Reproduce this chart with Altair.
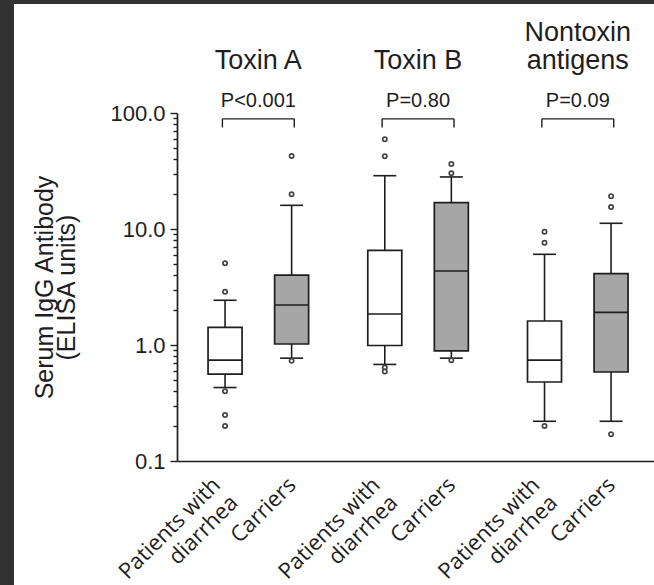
import json

import altair as alt
import pandas as pd

# ---- data -------------------------------------------------------------
antigens = ["Toxin A", "Toxin B", "Nontoxin\nantigens"]
p_labels = ["P<0.001", "P=0.80", "P=0.09"]
group_names = ["Patients with diarrhea", "Carriers"]
group_ticks = [["Patients with", "diarrhea"], ["Carriers"]]

# Box-plot statistics in ELISA units, per antigen: [patients, carriers]
lower_whisker = [[0.43, 0.77], [0.68, 0.77], [0.22, 0.22]]
lower_quartile = [[0.56, 1.02], [0.99, 0.89], [0.48, 0.585]]
medians = [[0.74, 2.21], [1.85, 4.34], [0.74, 1.91]]
upper_quartile = [[1.42, 4.01], [6.55, 16.9], [1.61, 4.12]]
upper_whisker = [[2.43, 16.0], [28.8, 28.1], [6.05, 11.2]]
outliers = [
    [[5.06, 2.88, 0.40, 0.249, 0.20], [42.6, 19.9, 0.73]],
    [[59.3, 42.3, 0.64, 0.59], [36.3, 30.2, 0.74]],
    [[9.48, 7.62, 0.20], [19.2, 15.5, 0.17]],
]

# ---- layout / style constants -----------------------------------------
GROUP_STEP = 2.4          # distance between antigen groups, in box units
BRACKET_TOP = 89
BRACKET_FOOT = 75
BRACKET_OVERHANG = 0.04
INK = "#1e1e1e"
BOX_FILLS = ["white", "#a6a6a6"]
SANS = "Liberation Sans"
TITLE_SIZE = 27
TITLE_LINE = 28

rows, pts = [], []
for g, antigen in enumerate(antigens):
    for m, grp in enumerate(group_names):
        pos = g * GROUP_STEP + m
        rows.append(dict(antigen=antigen, group=grp, pos=pos,
                         lo=lower_whisker[g][m], q1=lower_quartile[g][m],
                         med=medians[g][m], q3=upper_quartile[g][m],
                         hi=upper_whisker[g][m]))
        for v in outliers[g][m]:
            pts.append(dict(group=grp, pos=pos, value=v))
boxes = pd.DataFrame(rows)
points = pd.DataFrame(pts)

title_lines = [name.split("\n") for name in antigens]
groups_df = pd.DataFrame({
    "p": p_labels,
    "title_last": [lines[-1] for lines in title_lines],
    "title_first": [" ".join(lines[:-1]) for lines in title_lines],
    "center": [g * GROUP_STEP + 0.5 for g in range(len(antigens))],
    "left": [g * GROUP_STEP - BRACKET_OVERHANG for g in range(len(antigens))],
    "right": [g * GROUP_STEP + 1 + BRACKET_OVERHANG for g in range(len(antigens))],
    "top": BRACKET_TOP,
    "foot": BRACKET_FOOT,
})

patient_pos = [g * GROUP_STEP for g in range(len(antigens))]
tick_pos = sorted(boxes["pos"].tolist())
is_patient = f"indexof({json.dumps(patient_pos)}, datum.value) >= 0"

# ---- scales & axes ----------------------------------------------------
x_scale = alt.Scale(domain=[-0.647, 6.37], nice=False, zero=False)
y_scale = alt.Scale(type="log", domain=[0.1, 100], nice=False)

major = [0.1, 1, 10, 100]
minor = [0.2, 0.3, 0.4, 0.5, 0.6, 0.7, 0.8, 0.9,
         2, 3, 4, 5, 6, 7, 8, 9,
         20, 30, 40, 50, 60, 70, 80, 90]
is_major = f"indexof({json.dumps(major)}, datum.value) >= 0"

x_axis = alt.Axis(
    values=tick_pos,
    labelExpr=(f"{is_patient} ? "
               f"{json.dumps(group_ticks[0])} : {json.dumps(group_ticks[1])}"),
    title="",
    ticks=False, tickSize=0, grid=False, zindex=1,
    domainColor=INK, domainWidth=1.7,
    labelAngle=315, labelAlign="right", labelBaseline="middle",
    labelPadding=20,
    labelOffset={"condition": {"test": is_patient, "value": -9}, "value": 0},
    labelFont="Open Sans", labelFontSize=22, labelLineHeight=25,
    labelColor=INK, labelFlush=False, labelOverlap=False, labelBound=False,
)

y_axis = alt.Axis(
    values=major + minor,
    labelExpr=f"{is_major} ? format(datum.value, '.1f') : ''",
    title=["Serum IgG Antibody", "(ELISA units)"],
    grid=False, zindex=1,
    domainColor=INK, domainWidth=1.7,
    tickColor=INK, tickWidth=1.4,
    tickSize={"condition": {"test": is_major, "value": 7}, "value": 4},
    labelFont=SANS, labelFontSize=22, labelColor=INK, labelPadding=5,
    labelFlush=False, labelOverlap=False, labelBound=False,
    titleFont=SANS, titleFontSize=25, titleFontWeight="normal",
    titleColor=INK, titleLineHeight=22, titleAngle=270,
    titleAlign="center", titleBaseline="bottom", titleX=-120, titleY=174,
)


def X(field):
    return alt.X(field, type="quantitative", scale=x_scale, axis=x_axis)


def Y(field):
    return alt.Y(field, type="quantitative", scale=y_scale, axis=y_axis)


# ---- layers -----------------------------------------------------------
# white sheet over the dark page background
sheet = alt.Chart(pd.DataFrame({"k": [0]})).mark_rect(color="white").encode(
    x=alt.value(-163), x2=alt.value(477), y=alt.value(-109), y2=alt.value(472)
)

whiskers = alt.Chart(boxes).mark_rule(color=INK, strokeWidth=1.6).encode(
    x=X("pos"), y=Y("lo"), y2="hi"
)
caps_lo = alt.Chart(boxes).mark_tick(
    orient="horizontal", size=23, thickness=1.6, color=INK, opacity=1
).encode(x=X("pos"), y=Y("lo"))
caps_hi = alt.Chart(boxes).mark_tick(
    orient="horizontal", size=23, thickness=1.6, color=INK, opacity=1
).encode(x=X("pos"), y=Y("hi"))

box = alt.Chart(boxes).mark_bar(
    size=34, stroke=INK, strokeWidth=1.7, opacity=1
).encode(
    x=X("pos"), y=Y("q1"), y2="q3",
    fill=alt.Fill("group:N", scale=alt.Scale(domain=group_names, range=BOX_FILLS),
                  legend=None),
)
med = alt.Chart(boxes).mark_tick(
    orient="horizontal", size=34, thickness=1.6, color=INK, opacity=1
).encode(x=X("pos"), y=Y("med"))

dots = alt.Chart(points).mark_point(
    shape="circle", size=18, filled=False, fill="white", fillOpacity=1,
    stroke="#444444", strokeWidth=1.7, opacity=1
).encode(x=X("pos"), y=Y("value"))

bracket_bar = alt.Chart(groups_df).mark_rule(color=INK, strokeWidth=1.4).encode(
    x=X("left"), x2="right", y=Y("top")
)
bracket_l = alt.Chart(groups_df).mark_rule(color=INK, strokeWidth=1.4).encode(
    x=X("left"), y=Y("top"), y2="foot"
)
bracket_r = alt.Chart(groups_df).mark_rule(color=INK, strokeWidth=1.4).encode(
    x=X("right"), y=Y("top"), y2="foot"
)

p_text = alt.Chart(groups_df).mark_text(
    font=SANS, fontSize=20, color=INK, align="center", baseline="alphabetic"
).encode(x=X("center"), y=alt.value(-6), text="p:N")

title_style = dict(font=SANS, fontSize=TITLE_SIZE, color=INK,
                   align="center", baseline="alphabetic")
titles_last = alt.Chart(groups_df).mark_text(**title_style).encode(
    x=X("center"), y=alt.value(-44), text="title_last:N"
)
titles_first = alt.Chart(groups_df).mark_text(**title_style).encode(
    x=X("center"), y=alt.value(-44 - TITLE_LINE), text="title_first:N"
)

chart = alt.layer(
    sheet, whiskers, caps_lo, caps_hi, box, med, dots,
    bracket_bar, bracket_l, bracket_r, p_text, titles_last, titles_first,
).properties(
    width=477, height=348,
    autosize=alt.AutoSizeParams(type="none"),
    padding={"left": 177, "top": 113, "right": 0, "bottom": 124},
    background="#323232",
).configure_view(stroke="transparent")

chart.save("out.html", embed_options={"renderer": "svg", "actions": False})
